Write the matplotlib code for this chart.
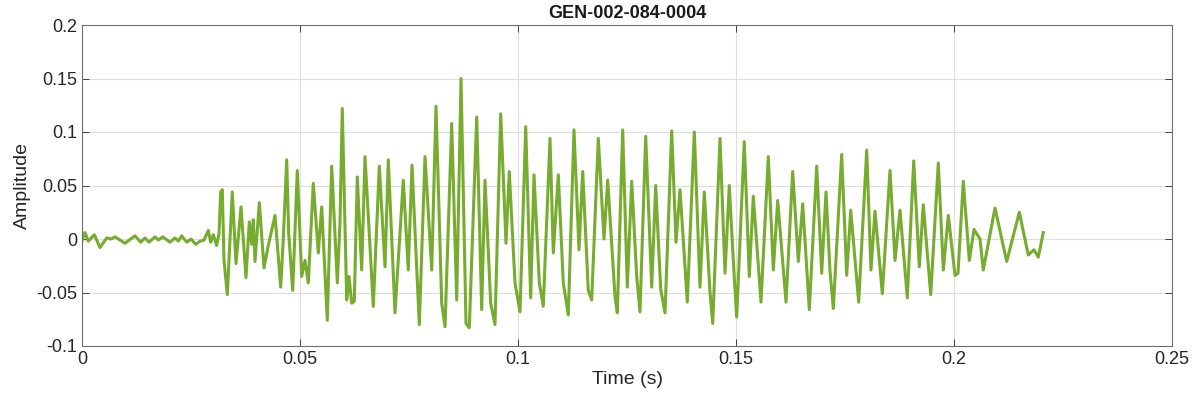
import numpy as np
import matplotlib
matplotlib.use('Agg')
import matplotlib.pyplot as plt

# waveform: time (ms) of each turning point and its amplitude
t_ms = [0.07, 0.69, 1.44, 2.82, 4.13, 5.67, 6.65, 7.57, 9.86, 12.16, 13.46, 14.45,
        15.37, 16.74, 17.50, 18.51, 20.18, 21.33, 22.09, 22.87, 24.01, 25.00, 26.08,
        27.06, 27.98, 28.97, 29.52, 30.11, 30.89, 31.42, 31.81, 32.18, 32.57, 33.33,
        34.47, 35.32, 36.47, 37.61, 38.37, 38.92, 39.29, 39.68, 40.67, 41.74, 42.73,
        44.27, 45.57, 46.17, 46.95, 47.41, 48.33, 49.38, 50.39, 51.15, 51.90, 53.05,
        54.20, 54.98, 56.26, 57.27, 58.56, 59.17, 59.70, 60.71, 61.24, 61.86, 62.45,
        63.14, 64.15, 64.91, 66.81, 68.19, 69.50, 70.25, 71.79, 73.69, 74.84, 75.69,
        77.36, 78.67, 80.21, 81.19, 82.50, 83.26, 84.79, 85.94, 86.93, 88.07, 88.83,
        90.53, 91.67, 92.43, 93.74, 94.72, 96.03, 97.25, 98.00, 99.31, 100.46, 101.77,
        102.91, 103.67, 104.89, 105.80, 107.34, 108.10, 109.24, 110.39, 111.54, 112.84,
        113.99, 114.84, 116.12, 116.90, 118.42, 119.72, 120.57, 122.25, 122.78, 124.01,
        125.07, 126.08, 127.22, 127.98, 129.29, 130.67, 131.58, 132.73, 133.72, 135.25,
        136.24, 137.16, 138.83, 140.44, 141.74, 142.73, 144.04, 144.66, 146.33, 147.48,
        148.46, 149.38, 150.16, 151.90, 153.05, 153.97, 155.73, 157.41, 158.56, 159.56,
        161.47, 163.00, 164.29, 165.30, 166.81, 168.51, 169.66, 170.64, 171.56, 172.32,
        174.24, 175.39, 176.31, 178.14, 179.98, 180.96, 181.88, 183.56, 185.32, 186.47,
        187.61, 189.29, 190.76, 192.04, 192.96, 194.66, 196.40, 197.55, 198.69, 200.23,
        200.92, 202.13, 203.51, 204.59, 205.96, 206.72, 209.40, 212.09, 214.98, 217.04,
        218.35, 219.34, 220.48]
amp = [-0.001, 0.006, -0.002, 0.004, -0.008, 0.001, 0.0, 0.002, -0.004, 0.003, -0.003, 0.001,
       -0.003, 0.002, -0.001, 0.002, -0.003, 0.001, -0.002, 0.003, -0.003, 0.0, -0.005,
       -0.002, -0.001, 0.008, -0.003, 0.004, -0.006, 0.005, 0.044, 0.046, -0.02, -0.052,
       0.044, -0.023, 0.030, -0.036, 0.016, -0.005, 0.018, -0.021, 0.034, -0.027, -0.006,
       0.022, -0.045, 0.0, 0.074, 0.005, -0.048, 0.064, -0.035, -0.020, -0.041, 0.052,
       -0.013, 0.030, -0.076, 0.068, -0.041, 0.015, 0.122, -0.057, -0.035, -0.060, -0.058,
       0.058, -0.029, 0.077, -0.063, 0.068, -0.026, 0.074, -0.069, 0.055, -0.029, 0.069,
       -0.080, 0.077, -0.029, 0.124, -0.060, -0.082, 0.108, -0.057, 0.150, -0.079, -0.083,
       0.114, -0.066, 0.055, -0.060, -0.080, 0.117, -0.004, 0.063, -0.041, -0.068, 0.105,
       -0.055, 0.060, -0.041, -0.063, 0.094, -0.013, 0.060, -0.041, -0.071, 0.102,
       -0.010, 0.063, -0.048, -0.057, 0.094, 0.0, 0.055, -0.054, -0.069, 0.102,
       -0.045, 0.054, -0.035, -0.068, 0.096, -0.045, 0.050, -0.047, -0.069, 0.101,
       -0.003, 0.046, -0.059, 0.100, -0.045, 0.044, -0.050, -0.079, 0.094, -0.032,
       0.050, -0.020, -0.073, 0.091, -0.035, 0.040, -0.059, 0.077, -0.029, 0.036,
       -0.059, 0.063, -0.021, 0.033, -0.066, 0.068, -0.032, 0.044, -0.030, -0.065,
       0.079, -0.034, 0.027, -0.059, 0.083, -0.029, 0.026, -0.051, 0.064, -0.020,
       0.027, -0.055, 0.073, -0.026, 0.032, -0.052, 0.071, -0.029, 0.022, -0.034,
       -0.032, 0.054, -0.020, 0.009, 0.0, -0.029, 0.029, -0.021, 0.025, -0.015,
       -0.010, -0.017, 0.006]

x_ticks = [0, 0.05, 0.1, 0.15, 0.2, 0.25]
x_labels = ['0', '0.05', '0.1', '0.15', '0.2', '0.25']
y_ticks = [-0.1, -0.05, 0, 0.05, 0.1, 0.15, 0.2]
y_labels = ['-0.1', '-0.05', '0', '0.05', '0.1', '0.15', '0.2']

plt.rcParams['font.family'] = ['Liberation Sans', 'DejaVu Sans']

fig = plt.figure(figsize=(11.93, 4.04), dpi=100)
ax = fig.add_axes([82 / 1193, 58 / 404, 1090 / 1193, 321 / 404])

t = np.array(t_ms) / 1000.0
ax.plot(t, amp, color='#77AC30', linewidth=2.2, solid_joinstyle='round')

ax.set_xlim(0, 0.25)
ax.set_ylim(-0.1, 0.2)
ax.set_xticks(x_ticks)
ax.set_xticklabels(x_labels)
ax.set_yticks(y_ticks)
ax.set_yticklabels(y_labels)
ax.tick_params(direction='in', length=5, width=0.6, colors='#262626', labelsize=13,
               top=True, right=True)
ax.grid(True, color='#dedede', linewidth=0.8)
ax.set_axisbelow(True)
for s in ax.spines.values():
    s.set_color('#6e6e6e')
    s.set_linewidth(0.8)

ax.set_xlabel('Time (s)', fontsize=14, color='#262626', labelpad=2)
ax.set_ylabel('Amplitude', fontsize=14, color='#262626', labelpad=4)
ax.set_title('GEN-002-084-0004', fontsize=13, fontweight='bold', color='#1a1a1a', pad=5)

fig.savefig('out.png', dpi=100)
